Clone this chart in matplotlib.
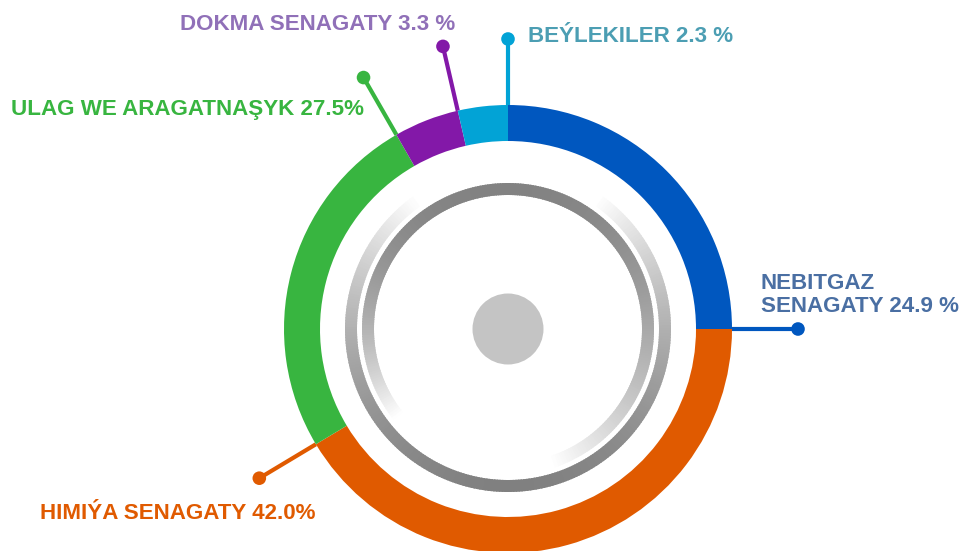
import numpy as np
import matplotlib
matplotlib.use("Agg")
import matplotlib.pyplot as plt
from matplotlib.patches import Wedge, Circle

# ---- data ----
categories = ["NEBITGAZ\nSENAGATY", "HIMIÝA SENAGATY", "ULAG WE ARAGATNAŞYK",
              "DOKMA SENAGATY", "BEÝLEKILER"]
label_pct = [24.9, 42.0, 27.5, 3.3, 2.3]          # percentages printed on the chart
slice_share = [25.0, 41.4, 25.3, 4.7, 3.6]        # arc sizes as drawn in the picture
label_fmt = ["{} {:.1f} %", "{} {:.1f}%", "{} {:.1f}%", "{} {:.1f} %", "{} {:.1f} %"]

slice_colors = ["#0057BF", "#E05A00", "#38B540", "#8318A8", "#02A3D6"]
text_colors = ["#4A6FA3", "#E05A00", "#38B540", "#9070B8", "#4C9EB3"]

W, H = 967, 551
fig = plt.figure(figsize=(W / 100, H / 100), dpi=100)
ax = fig.add_axes([0, 0, 1, 1])

cx, cy = 508, H - 329
r_out, ring_w = 224, 36
r_dot = 290

wedges, _ = ax.pie(slice_share, radius=r_out, center=(cx, cy), startangle=90,
                   counterclock=False, colors=slice_colors,
                   wedgeprops=dict(width=ring_w, linewidth=0, zorder=3))

# leader lines at the clockwise end of each slice
for w, col in zip(wedges, slice_colors):
    a = np.deg2rad(w.theta1)
    x0, y0 = cx + r_out * np.cos(a), cy + r_out * np.sin(a)
    x1, y1 = cx + r_dot * np.cos(a), cy + r_dot * np.sin(a)
    ax.plot([x0, x1], [y0, y1], color=col, lw=3.0, solid_capstyle="butt", zorder=2)
    ax.add_patch(Circle((x1, y1), 6.8, color=col, zorder=4, lw=0))

# decorative gradient rings
def gray(level):
    v = min(max(level, 0), 255) / 255.0
    return (v, v, v)

step = 1.0
for k in np.arange(0, 360, step):
    phi = k + step / 2  # clockwise from top
    # inner ring: dark at top
    if phi <= 180:
        t = min(phi / 162.0, 1.0); p = 2.0
    else:
        t = min((360 - phi) / 128.0, 1.0); p = 2.6
    lvl = 0x82 + (255 - 0x82) * t ** p
    th1 = 90 - (k + step) - 0.3
    th2 = 90 - k + 0.3
    if lvl < 254:
        ax.add_patch(Wedge((cx, cy), 146, th1, th2, width=12, facecolor=gray(lvl),
                           edgecolor="none", lw=0, zorder=1))
    # outer ring: dark at bottom
    psi = abs(phi - 180)
    t2 = min(psi / 145.0, 1.0)
    lvl2 = 0x80 + (255 - 0x80) * t2 ** 2.0
    if lvl2 < 254:
        ax.add_patch(Wedge((cx, cy), 163, th1, th2, width=12, facecolor=gray(lvl2),
                           edgecolor="none", lw=0, zorder=1))

ax.add_patch(Circle((cx, cy), 35.5, color="#C4C4C4", lw=0, zorder=2))

# labels
font = dict(family=["Liberation Sans", "DejaVu Sans"], weight="bold", fontsize=16.1)
label_pos = [(761, 312), (40, 519), (11, 115), (180, 30), (528, 42.5)]
for cat, pct, fmt, col, (lx, ly) in zip(categories, label_pct, label_fmt, text_colors, label_pos):
    ax.text(lx, H - ly, fmt.format(cat, pct), color=col, ha="left", va="baseline",
            linespacing=1.15, **font)

ax.set_xlim(0, W)
ax.set_ylim(0, H)
ax.set_aspect("equal")
ax.axis("off")
fig.savefig("out.png", dpi=100)
